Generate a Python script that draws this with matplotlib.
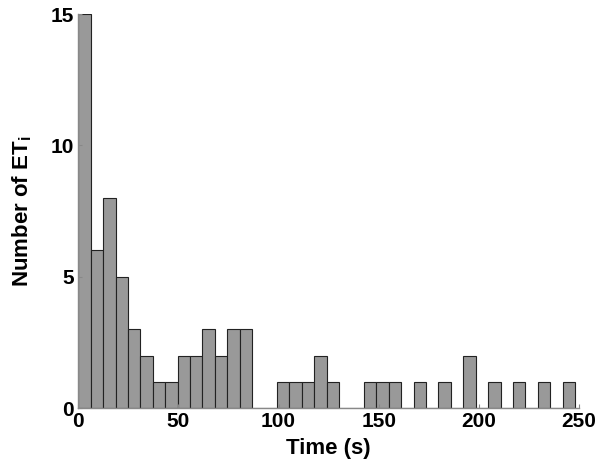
import matplotlib
matplotlib.use("Agg")
import matplotlib.pyplot as plt
import numpy as np

plt.rcParams['font.family'] = ['Liberation Sans', 'DejaVu Sans']
plt.rcParams['mathtext.fontset'] = 'custom'
plt.rcParams['mathtext.bf'] = 'Liberation Sans:bold'
plt.rcParams['mathtext.rm'] = 'Liberation Sans'

# histogram: 40 bins spanning 0 .. 248 s
bin_lo = 0.0
bin_hi = 248.0
counts = [15, 6, 8, 5, 3, 2, 1, 1, 2, 2,
          3, 2, 3, 3, 0, 0, 1, 1, 1, 2,
          1, 0, 0, 1, 1, 1, 0, 1, 0, 1,
          0, 2, 0, 1, 0, 1, 0, 1, 0, 1]
xticks = [0, 50, 100, 150, 200, 250]
yticks = [0, 5, 10, 15]

edges = np.linspace(bin_lo, bin_hi, len(counts) + 1)

fig = plt.figure(figsize=(6.02, 4.69), dpi=100)
ax = fig.add_axes([0.130, 0.130, 0.832, 0.840])

ax.bar(edges[:-1], counts, width=np.diff(edges), align='edge',
       color='#999999', edgecolor='#222222', linewidth=0.8)

ax.set_xlim(0, 250)
ax.set_ylim(0, 15)
ax.set_xticks(xticks)
ax.set_yticks(yticks)

for s in ['top', 'right']:
    ax.spines[s].set_visible(False)
for s in ['left', 'bottom']:
    ax.spines[s].set_color('#888888')
    ax.spines[s].set_linewidth(1.0)

ax.tick_params(direction='in', length=3, color='#888888', labelsize=15, pad=3)
for lbl in ax.get_xticklabels() + ax.get_yticklabels():
    lbl.set_fontweight('bold')

ax.set_xlabel('Time (s)', fontsize=16, fontweight='bold', labelpad=5)
ax.set_ylabel(r'Number of ET$_\mathbf{i}$', fontsize=16, fontweight='bold', labelpad=12)

plt.savefig('out.png', dpi=100)
